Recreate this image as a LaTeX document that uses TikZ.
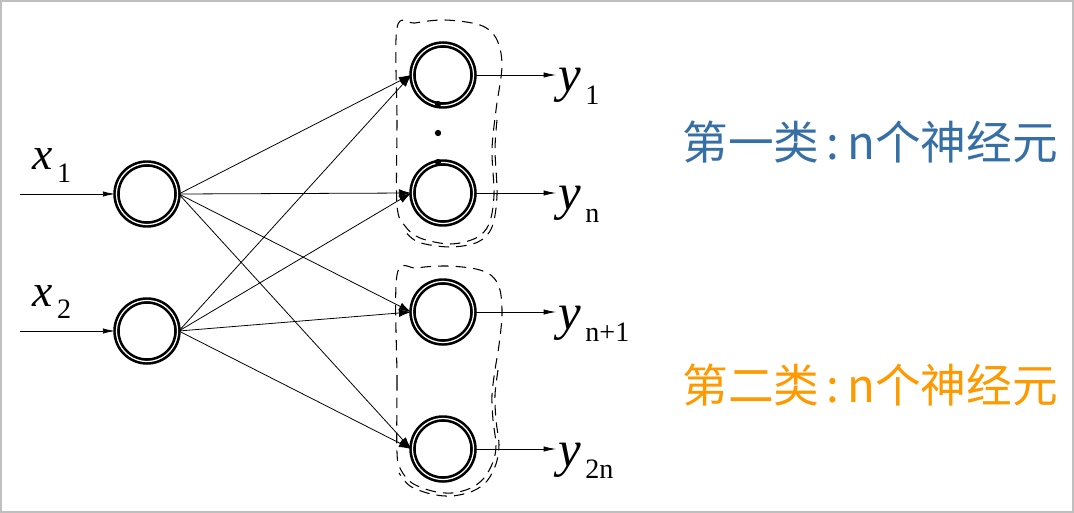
\documentclass[tikz,border=0pt]{standalone}
\usepackage{fontspec}
\setmainfont{Liberation Serif}
\newfontfamily\cjk{Noto Sans CJK SC}
\usepackage{tikz}
\usetikzlibrary{arrows.meta,positioning}
\definecolor{clsblue}{RGB}{54,110,166}
\definecolor{clsorange}{RGB}{255,153,0}
\newcommand{\lsub}[1]{\hspace{2.5pt}\raisebox{-7pt}{\fontsize{16}{16}\selectfont #1}}

\begin{document}
\begin{tikzpicture}[x=0.02cm,y=-0.02cm,
  neuron/.style={circle,draw,double,double distance=0.7pt,line width=1.5pt,minimum size=1.22cm,inner sep=0pt},
  syn/.style={-{Latex[length=7pt,width=4.5pt]},line width=0.45pt},
  io/.style={-{Latex[length=7pt,width=3pt]},line width=0.45pt},
  grp/.style={dash pattern=on 6pt off 4pt,line width=0.6pt},
  lab/.style={anchor=base west,inner sep=0pt},
  cls/.style={anchor=west,inner sep=0pt,font=\cjk\fontsize{26}{30}\selectfont}]
  \useasboundingbox (0,0) rectangle (1074,513);
  \draw[gray!50,line width=1.1pt] (1,1) rectangle (1073,512);
  % input layer
  \foreach \n/\y/\yb in {1/194/170,2/331/306} {
    \node[neuron] (x\n) at (147,\y) {};
    \coordinate (in\n) at (20,\y);
    \draw[io] (in\n) -- (x\n);
    \node[lab,font=\fontsize{26}{26}\selectfont] (xl\n) at (32,\yb) {\textit{x}\lsub{\n}};
  }
  % output layer
  \foreach \n/\y/\s in {1/75/1,2/193/n,3/312/n+1,4/449/2n} {
    \node[neuron] (o\n) at (443,\y) {};
    \coordinate (out\n) at (556,\y);
    \draw[io] (o\n) -- (out\n);
    \node[lab,font=\fontsize{29}{29}\selectfont] (yl\n) at (558,\y+17) {\textit{y}\lsub{\s}};
  }
  \foreach \i in {1,2} \foreach \o in {1,...,4} \draw[syn] (x\i.east) -- (o\o.west);
  \foreach \yy in {104,133,162} \fill (438,\yy) circle (1.8pt);
  % the two classes
  \draw[grp] plot[smooth cycle,tension=0.55] coordinates {(397,28) (397,120) (397,205) (405,226) (420,238) (450,244) (476,238) (489,224) (494,195) (492,150) (496,110) (502,65) (496,38) (480,25) (445,20) (415,23)};
  \draw[grp] plot[smooth,tension=0.55] coordinates {(497,120) (495,150) (497,195) (492,227) (478,242) (450,247) (418,242) (403,229)};
  \draw[grp] plot[smooth cycle,tension=0.55] coordinates {(397,275) (397,380) (397,453) (401,470) (412,483) (432,491) (452,493) (471,488) (484,478) (493,462) (496,445) (493,420) (492,395) (495,370) (499,345) (502,315) (500,290) (492,276) (476,269) (447,266) (417,268)};
  \draw[grp] plot[smooth,tension=0.55] coordinates {(498,370) (495,395) (496,420) (499,445) (496,464) (487,481) (473,491) (452,496) (431,494) (410,486) (399,473)};
  \node[cls,text=clsblue] (c1) at (682,142) {第一类\,:\,n个神经元};
  \node[cls,text=clsorange] (c2) at (682,385) {第二类\,:\,n个神经元};
\end{tikzpicture}
\end{document}
